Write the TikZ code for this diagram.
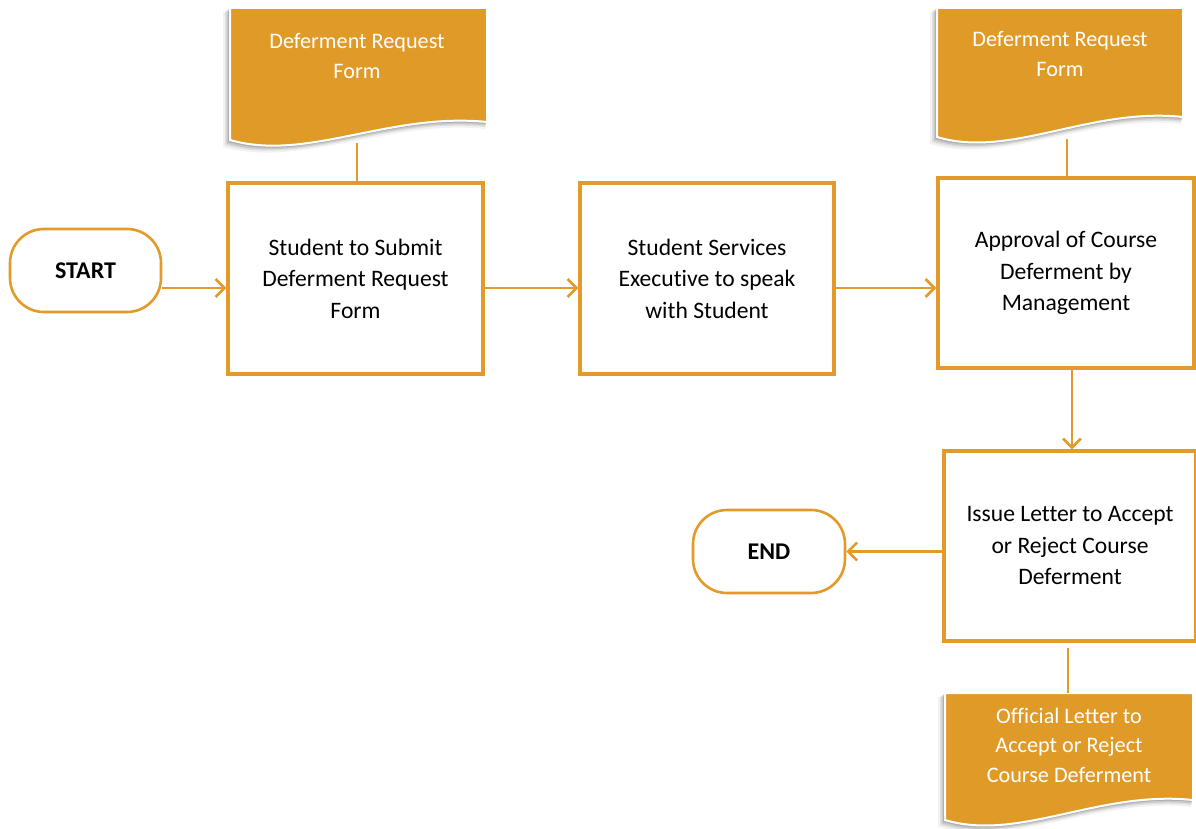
\documentclass[tikz,border=0pt]{standalone}
\usepackage{fontspec}
\setmainfont{Carlito}[Ligatures=NoCommon]
\usetikzlibrary{arrows.meta}
\definecolor{orng}{RGB}{227,154,42}
\definecolor{docfill}{RGB}{224,154,40}
\tikzset{
  proc/.style={draw=orng, line width=3.2pt, fill=white, align=center, font=\fontsize{23.6}{31.5}\selectfont, inner sep=0pt},
  term/.style={draw=orng, line width=2.6pt, fill=white, rounded corners=34pt, font=\fontsize{24}{25}\selectfont\bfseries, inner sep=0pt},
  doctext/.style={text=white, align=center, font=\fontsize{22.2}{29.5}\selectfont, inner sep=0pt},
  arr/.style={draw=orng, line width=2.6pt, -{Straight Barb[length=9pt,width=18pt,line width=2.6pt]}},
  link/.style={draw=orng, line width=2.6pt},
  docshape/.style={fill=docfill, draw=white, line width=2pt},
  shad/.style={fill=black, draw=none}
}
\newcommand{\docpath}[5]{% x0 x1 top ybl ybr
  (#1,#3) -- (#2,#3) -- (#2,#5) .. controls ({#2-0.38*(#2-#1)},{#5-10}) and ({#1+0.3*(#2-#1)},{#4+22}) .. (#1,#4) -- cycle}
\newcommand{\docdraw}[5]{%
  \foreach \o/\op in {7/0.05,5/0.08,3.5/0.10,2/0.12}{
    \fill[shad, opacity=\op] \docpath{#1-\o}{#2-\o*0.3}{#3+\o*0.6}{#4+\o}{#5+\o};
  }
  \path[docshape] \docpath{#1}{#2}{#3}{#4}{#5};
}
\begin{document}
\begin{tikzpicture}[x=1pt,y=-1pt]
\useasboundingbox (0,0) rectangle (1196,829);
\fill[white] (0,0) rectangle (1196,829);
\begin{scope}
\clip (0,0) rectangle (1196,829);
% documents
\docdraw{230}{487}{8}{140}{122}
\node[doctext] (d1) at (357,56) {Deferment Request\\Form};
\coordinate (d1b) at (357,143);

\docdraw{937}{1183}{8}{137}{117}
\node[doctext] (d2) at (1060,54) {Deferment Request\\Form};
\coordinate (d2b) at (1067,139);

\docdraw{945}{1193}{693}{820}{800}
\node[doctext] (d3) at (1069,745) {Official Letter to\\Accept or Reject\\Course Deferment};
\coordinate (d3t) at (1068,693);

% process boxes
\node[proc, minimum width=255pt, minimum height=191pt] (b1) at (355.5,278.5) {Student to Submit\\Deferment Request\\Form};
\node[proc, minimum width=254pt, minimum height=191pt] (b2) at (707,278.5) {Student Services\\Executive to speak\\with Student};
\node[proc, minimum width=256pt, minimum height=190pt] (b3) at (1066,273) {Approval of Course\\Deferment by\\Management};
\node[proc, minimum width=252pt, minimum height=190pt] (b4) at (1070,546) {Issue Letter to Accept\\or Reject Course\\Deferment};

% terminals
\node[term, minimum width=151pt, minimum height=83pt] (start) at (85.5,270.5) {START};
\node[term, minimum width=152pt, minimum height=83pt] (end) at (769,551.5) {END};

% connectors
\coordinate (row) at (0,288);
\coordinate (b4bot) at (1068,648);
\draw[link] (d1b) -- (b1.north -| d1b);
\draw[link] (d2b) -- (b3.north -| d2b);
\draw[link] (b4bot) -- (d3t);
\draw[arr] (start.east |- row) -- (b1.west |- row);
\draw[arr] (b1.east |- row) -- (b2.west |- row);
\draw[arr] (b2.east |- row) -- (b3.west |- row);
\coordinate (vx) at (1072,0);
\draw[arr] (b3.south -| vx) -- (b4.north -| vx);
\draw[arr] (b4.west |- end.east) -- (end.east);
\end{scope}
\end{tikzpicture}
\end{document}
